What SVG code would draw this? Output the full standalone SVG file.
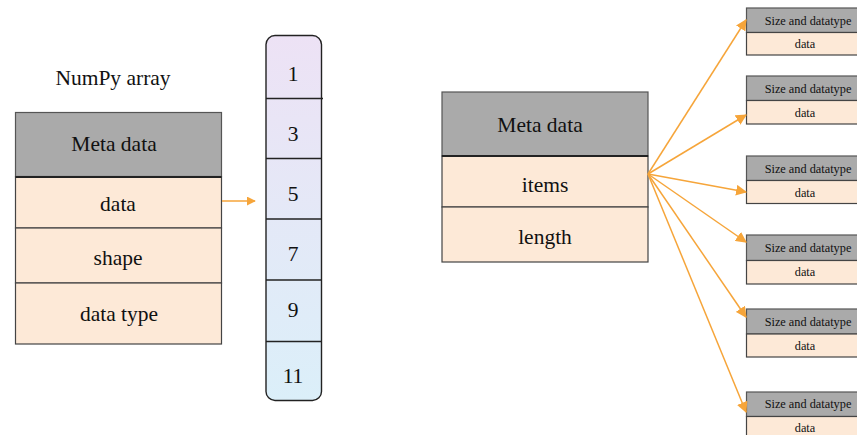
<svg xmlns="http://www.w3.org/2000/svg" width="857" height="435" viewBox="0 0 857 435" font-family="'Liberation Serif', 'DejaVu Serif', serif">
  <defs>
    <linearGradient id="colFill" x1="0" y1="0" x2="0" y2="1">
      <stop offset="0" stop-color="#ede2f5"/>
      <stop offset="1" stop-color="#dbeff9"/>
    </linearGradient>
    <marker id="arrow" viewBox="0 0 10 10" refX="9" refY="5" markerWidth="9" markerHeight="9" markerUnits="userSpaceOnUse" orient="auto">
      <path d="M0,0 L10,5 L0,10 z" fill="#f6a53a"/>
    </marker>
    <marker id="arrowBig" viewBox="0 0 10 10" refX="9" refY="5" markerWidth="11" markerHeight="11" markerUnits="userSpaceOnUse" orient="auto">
      <path d="M0,0 L10,5 L0,10 z" fill="#f6a53a"/>
    </marker>
  </defs>
  <style>
    text { fill: #111; text-anchor: middle; }
    .big { font-size: 21.5px; }
    .small { font-size: 12.3px; }
    .head { fill: #aaaaaa; stroke: #555; stroke-width: 1.2; }
    .cell { fill: #fde9d7; stroke: #444; stroke-width: 1.2; }
    .sep { stroke: #222; stroke-width: 2; }
    .div { stroke: #222; stroke-width: 1.4; }
    .link { stroke: #f6a53a; stroke-width: 1.5; fill: none; }
  </style>

  <rect width="857" height="435" fill="#ffffff"/>

  <text class="big" x="113" y="85">NumPy array</text>

  <!-- NumPy array header -->
  <g id="numpy-array">
    <rect class="head" x="15.5" y="112.5" width="206" height="64"/>
    <rect class="cell" x="15.5" y="177" width="206" height="51"/>
    <rect class="cell" x="15.5" y="228" width="206" height="55"/>
    <rect class="cell" x="15.5" y="283" width="206" height="61"/>
    <line class="sep" x1="15.5" y1="177" x2="221.5" y2="177"/>
    <text class="big" x="114" y="151">Meta data</text>
    <text class="big" x="118" y="211">data</text>
    <text class="big" x="118" y="265">shape</text>
    <text class="big" x="119" y="321">data type</text>
  </g>

  <!-- Contiguous data buffer -->
  <g id="data-buffer">
    <rect x="266" y="35.5" width="55.5" height="365" rx="9" ry="9" fill="url(#colFill)" stroke="#222" stroke-width="1.4"/>
    <line class="div" x1="266" y1="98.5" x2="323" y2="98.5"/>
    <line class="div" x1="266" y1="158.5" x2="321.5" y2="158.5"/>
    <line class="div" x1="266" y1="219" x2="321.5" y2="219"/>
    <line class="div" x1="266" y1="280" x2="321.5" y2="280"/>
    <line class="div" x1="266" y1="341.5" x2="321.5" y2="341.5"/>
    <text class="big" x="293" y="81">1</text>
    <text class="big" x="293" y="141">3</text>
    <text class="big" x="293" y="201">5</text>
    <text class="big" x="293" y="261">7</text>
    <text class="big" x="293" y="317">9</text>
    <text class="big" x="293" y="383">11</text>
  </g>

  <!-- Python list header -->
  <g id="list-object">
    <rect class="head" x="442" y="92" width="206" height="64"/>
    <rect class="cell" x="442" y="156" width="206" height="51"/>
    <rect class="cell" x="442" y="207" width="206" height="55"/>
    <line class="sep" x1="442" y1="156" x2="648" y2="156"/>
    <text class="big" x="540" y="132">Meta data</text>
    <text class="big" x="545" y="192">items</text>
    <text class="big" x="545" y="244">length</text>
  </g>

  <!-- Individual Python objects -->
  <g id="item-1">
    <rect class="head" x="746.5" y="8" width="122" height="24.5"/>
    <rect class="cell" x="746.5" y="32.5" width="122" height="22.5"/>
    <text class="small" x="808" y="25">Size and datatype</text>
    <text class="small" x="805" y="48">data</text>
  </g>
  <g id="item-2">
    <rect class="head" x="746.5" y="76" width="122" height="24.5"/>
    <rect class="cell" x="746.5" y="100.5" width="122" height="23.5"/>
    <text class="small" x="808" y="93">Size and datatype</text>
    <text class="small" x="805" y="117">data</text>
  </g>
  <g id="item-3">
    <rect class="head" x="746.5" y="156" width="122" height="24.5"/>
    <rect class="cell" x="746.5" y="180.5" width="122" height="23"/>
    <text class="small" x="808" y="173">Size and datatype</text>
    <text class="small" x="805" y="197">data</text>
  </g>
  <g id="item-4">
    <rect class="head" x="746.5" y="235" width="122" height="25.5"/>
    <rect class="cell" x="746.5" y="260.5" width="122" height="23.5"/>
    <text class="small" x="808" y="252">Size and datatype</text>
    <text class="small" x="805" y="276">data</text>
  </g>
  <g id="item-5">
    <rect class="head" x="746.5" y="309" width="122" height="25"/>
    <rect class="cell" x="746.5" y="334" width="122" height="23"/>
    <text class="small" x="808" y="326">Size and datatype</text>
    <text class="small" x="805" y="350">data</text>
  </g>
  <g id="item-6">
    <rect class="head" x="746.5" y="392" width="122" height="24.5"/>
    <rect class="cell" x="746.5" y="416.5" width="122" height="23"/>
    <text class="small" x="808" y="408">Size and datatype</text>
    <text class="small" x="805" y="432">data</text>
  </g>

  <!-- Connectors -->
  <g id="connectors">
    <line class="link" x1="222" y1="201" x2="255" y2="201" marker-end="url(#arrow)"/>
    <line class="link" x1="648" y1="174" x2="746" y2="20" marker-end="url(#arrowBig)"/>
    <line class="link" x1="648" y1="174" x2="746" y2="115" marker-end="url(#arrowBig)"/>
    <line class="link" x1="648" y1="174" x2="746" y2="192" marker-end="url(#arrowBig)"/>
    <line class="link" x1="648" y1="174" x2="746" y2="242" marker-end="url(#arrowBig)"/>
    <line class="link" x1="648" y1="174" x2="746" y2="317" marker-end="url(#arrowBig)"/>
    <line class="link" x1="648" y1="174" x2="746" y2="412" marker-end="url(#arrowBig)"/>
  </g>
</svg>
